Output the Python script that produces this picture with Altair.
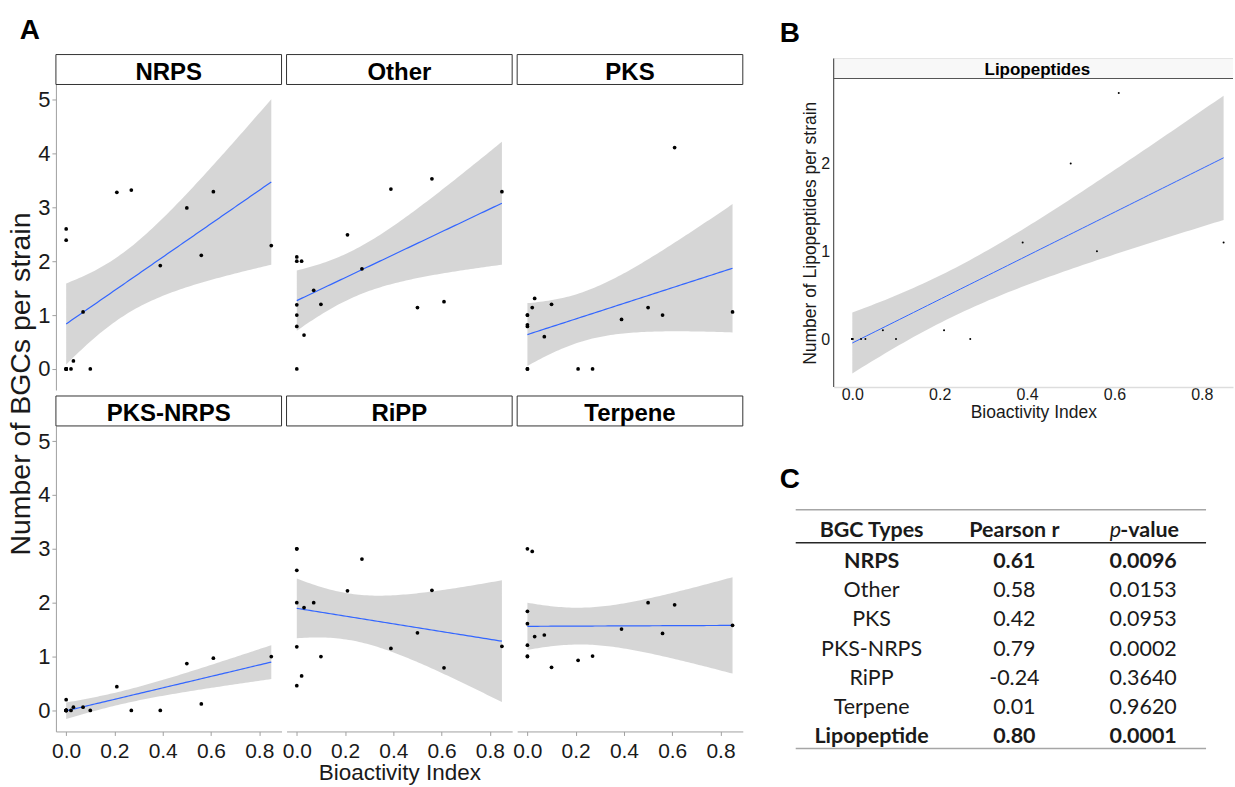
import altair as alt
import numpy as np
import pandas as pd

# ---------------------------------------------------------------- data
# Bioactivity index of each of the 17 strains (shared by every BGC class)
bioactivity = [0.0, 0.0, 0.0, 0.0, 0.0, 0.0, 0.02, 0.03, 0.07, 0.10,
               0.21, 0.27, 0.39, 0.50, 0.56, 0.61, 0.85]

# Number of BGCs per strain, one list per BGC class (same strain order)
nrps = [2.60, 2.39, 0.0, 0.0, 0.0, 0.0, 0.0, 0.15, 1.06, 0.0,
        3.28, 3.32, 1.92, 2.99, 2.11, 3.29, 2.29]
other = [2.08, 2.00, 1.19, 1.00, 0.79, 0.0, 2.00, 0.63, 1.46, 1.20,
         2.49, 1.86, 3.34, 1.14, 3.53, 1.25, 3.29]
pks = [1.00, 0.82, 0.79, 0.0, 1.00, 0.0, 1.14, 1.31, 0.60, 1.20,
       0.0, 0.0, 0.92, 1.14, 1.00, 4.11, 1.06]
pks_nrps = [0.20, 0.0, 0.0, 0.0, 0.0, 0.0, 0.0, 0.06, 0.06, 0.0,
            0.44, 0.0, 0.0, 0.87, 0.12, 0.97, 1.00]
ripp = [3.00, 2.60, 2.00, 1.18, 0.46, 3.00, 0.64, 1.91, 2.00, 1.00,
        2.22, 2.81, 1.15, 1.44, 2.23, 0.79, 1.19]
terpene = [3.00, 1.84, 1.61, 1.21, 1.01, 1.00, 2.95, 1.37, 1.40, 0.80,
           0.93, 1.01, 1.51, 2.00, 1.43, 1.96, 1.58]

# Number of lipopeptide clusters per strain
lipopeptides = [0.0, 0.0, 0.0, 0.0, 0.0, 0.0, 0.0, 0.0, 0.10, 0.0,
                0.10, 0.0, 1.10, 2.00, 1.00, 2.80, 1.10]

# Correlation summary table
table_types = ["NRPS", "Other", "PKS", "PKS-NRPS", "RiPP", "Terpene", "Lipopeptide"]
table_r = ["0.61", "0.58", "0.42", "0.79", "-0.24", "0.01", "0.80"]
table_p = ["0.0096", "0.0153", "0.0953", "0.0002", "0.3640", "0.9620", "0.0001"]
table_bold = ["NRPS", "Lipopeptide"]

# ---------------------------------------------------------------- style
FONT = "Liberation Sans"
TFONT = "Lato"
GREY = "#a0a0a0"
INK = "#1a1a1a"
FIT_BLUE = "#3366FF"
T_975_DF15 = 2.131  # two-sided 95% Student t quantile, n - 2 = 15

PW, PH = 226, 306
XDOM = [-0.0425, 0.8925]
YDOM = [-0.39, 5.28]


def fit_band(xs, ys, n=80):
    """Least-squares line with its 95% confidence band (as geom_smooth lm)."""
    x = np.asarray(xs, float)
    y = np.asarray(ys, float)
    xbar, ybar = x.mean(), y.mean()
    sxx = ((x - xbar) ** 2).sum()
    slope = ((x - xbar) * (y - ybar)).sum() / sxx
    icpt = ybar - slope * xbar
    resid = y - (icpt + slope * x)
    s = np.sqrt((resid ** 2).sum() / (len(x) - 2))
    grid = np.linspace(x.min(), x.max(), n)
    fit = icpt + slope * grid
    se = s * np.sqrt(1.0 / len(x) + (grid - xbar) ** 2 / sxx)
    return pd.DataFrame({"x": grid, "fit": fit,
                         "lo": fit - T_975_DF15 * se, "hi": fit + T_975_DF15 * se})


def bgc_panel(name, values, left, bottom):
    pts = pd.DataFrame({"x": bioactivity, "y": values})
    band = fit_band(bioactivity, values)
    xs = alt.Scale(domain=XDOM, nice=False, zero=False)
    ys = alt.Scale(domain=YDOM, nice=False, zero=False)

    if bottom:
        xaxis = alt.Axis(values=[0, 0.2, 0.4, 0.6, 0.8], format=".1f", grid=False,
                         labelFont=FONT, labelFontSize=21, labelColor=INK,
                         labelPadding=5, labelFlush=False, labelOverlap=False,
                         tickColor=GREY, tickSize=4, domainColor=GREY,
                         titleFont=FONT, titleFontSize=22.5, titleFontWeight="normal",
                         titleColor=INK, titlePadding=0)
    else:
        xaxis = None
    if left:
        yaxis = alt.Axis(values=[0, 1, 2, 3, 4, 5], grid=False,
                         labelFont=FONT, labelFontSize=22, labelColor=INK,
                         labelPadding=2, tickColor=GREY, tickSize=4, domainColor=GREY)
    else:
        yaxis = None

    xtitle = "Bioactivity Index" if name == "RiPP" else None

    def xenc():
        return alt.X("x:Q", scale=xs, axis=xaxis, title=xtitle)

    def yenc(field):
        return alt.Y(field, scale=ys, axis=yaxis, title=None)

    ribbon = alt.Chart(band).mark_area(color="#999999", opacity=0.4).encode(
        x=xenc(), y=yenc("lo:Q"), y2="hi:Q"
    )
    line = alt.Chart(band).mark_line(color=FIT_BLUE, strokeWidth=1.2).encode(
        x=xenc(), y=yenc("fit:Q")
    )
    dots = alt.Chart(pts).mark_circle(size=14, color="black", opacity=1).encode(
        x=xenc(), y=yenc("y:Q")
    )
    strip = pd.DataFrame({"label": [name]})
    box = alt.Chart(strip).mark_rect(fill="white", stroke="#333333", strokeWidth=1).encode(
        x=alt.value(0), x2=alt.value(PW), y=alt.value(-30), y2=alt.value(0)
    )
    label = alt.Chart(strip).mark_text(
        font=FONT, fontSize=24, fontWeight="bold", color="black",
        align="center", baseline="alphabetic"
    ).encode(text="label:N", x=alt.value(PW / 2), y=alt.value(-5))
    return alt.layer(ribbon, line, dots, box, label).properties(width=PW, height=PH)


def letter(ch, x, y, w, h):
    return alt.Chart(pd.DataFrame({"label": [ch]})).mark_text(
        font=FONT, fontSize=28, fontWeight="bold", color="black",
        align="center", baseline="alphabetic"
    ).encode(text="label:N", x=alt.value(x), y=alt.value(y)).properties(width=w, height=h)


# ---------------------------------------------------------------- panel A
panels = alt.concat(
    bgc_panel("NRPS", nrps, True, False),
    bgc_panel("Other", other, False, False),
    bgc_panel("PKS", pks, False, False),
    bgc_panel("PKS-NRPS", pks_nrps, True, True),
    bgc_panel("RiPP", ripp, False, True),
    bgc_panel("Terpene", terpene, False, True),
    columns=3,
    align="each",
    spacing={"row": 4, "column": -1},
)
block_a = alt.vconcat(letter("A", -26, 26, PW, 30), panels, spacing=8)

# shared y title of the six facets
y_title_a = alt.Chart(pd.DataFrame({"label": ["Number of BGCs per strain"]})).mark_text(
    font=FONT, fontSize=28.5, color=INK, angle=270, align="center", baseline="middle"
).encode(text="label:N", x=alt.value(0), y=alt.value(372)).properties(width=1, height=1)

left_part = alt.hconcat(y_title_a, block_a, spacing=-18)

# ---------------------------------------------------------------- panel B
BW, BH = 400, 309
BXDOM = [-0.0427, 0.8715]
BYDOM = [-0.545, 2.966]

lipo_pts = pd.DataFrame({"x": bioactivity, "y": lipopeptides})
lipo_band = fit_band(bioactivity, lipopeptides)
bxs = alt.Scale(domain=BXDOM, nice=False, zero=False)
bys = alt.Scale(domain=BYDOM, nice=False, zero=False)
b_xaxis = alt.Axis(values=[0, 0.2, 0.4, 0.6, 0.8], format=".1f", grid=False,
                   labelFont=FONT, labelFontSize=16, labelColor=INK,
                   labelPadding=0, labelFlush=False, ticks=False,
                   domainColor="#dddddd", domainWidth=1.5,
                   titleFont=FONT, titleFontSize=17.5, titleFontWeight="normal",
                   titleColor=INK, titlePadding=1)
b_yaxis = alt.Axis(values=[0, 1, 2], grid=False, domain=False, ticks=False,
                   labelFont=FONT, labelFontSize=16, labelColor=INK,
                   labelPadding=4,
                   titleFont=FONT, titleFontSize=17.5, titleFontWeight="normal",
                   titleColor=INK, titlePadding=1)


def bx():
    return alt.X("x:Q", scale=bxs, axis=b_xaxis, title="Bioactivity Index")


def by(field):
    return alt.Y(field, scale=bys, axis=b_yaxis, title="Number of Lipopeptides per strain")


b_ribbon = alt.Chart(lipo_band).mark_area(color="#999999", opacity=0.4).encode(
    x=bx(), y=by("lo:Q"), y2="hi:Q"
)
b_line = alt.Chart(lipo_band).mark_line(color=FIT_BLUE, strokeWidth=1).encode(
    x=bx(), y=by("fit:Q")
)
b_dots = alt.Chart(lipo_pts).mark_circle(size=4, color="black", opacity=1).encode(
    x=bx(), y=by("y:Q")
)
b_strip_df = pd.DataFrame({"label": ["Lipopeptides"]})
b_strip = alt.Chart(b_strip_df).mark_rect(fill="#f8f8f8").encode(
    x=alt.value(0), x2=alt.value(BW), y=alt.value(-20), y2=alt.value(0)
)
b_strip_top = alt.Chart(b_strip_df).mark_rule(color="#e4e4e4", strokeWidth=1).encode(
    x=alt.value(0), x2=alt.value(BW), y=alt.value(-20)
)
b_strip_bottom = alt.Chart(b_strip_df).mark_rule(color="#555555", strokeWidth=1.2).encode(
    x=alt.value(0), x2=alt.value(BW), y=alt.value(0)
)
b_left = alt.Chart(b_strip_df).mark_rule(color="#555555", strokeWidth=1.2).encode(
    x=alt.value(0), y=alt.value(-20), y2=alt.value(BH)
)
b_label = alt.Chart(b_strip_df).mark_text(
    font=FONT, fontSize=17, fontWeight="bold", color="black",
    align="center", baseline="alphabetic"
).encode(text="label:N", x=alt.value(BW / 2 + 4), y=alt.value(-3.5))

panel_b = alt.layer(b_ribbon, b_line, b_dots, b_strip, b_strip_top, b_strip_bottom,
                    b_left, b_label).properties(width=BW, height=BH)

# ---------------------------------------------------------------- panel C
TW, TH = 373, 239
cells = []
for i, (t, r, p) in enumerate(zip(table_types, table_r, table_p)):
    w = "bold" if t in table_bold else "normal"
    for ci, v in enumerate([t, r, p]):
        cells.append({"ri": i + 1, "ci": ci, "text": v, "weight": w})
cells = pd.DataFrame(cells)
header = pd.DataFrame({"ri": [0, 0, 0, 0], "ci": [0, 1, 2, 2],
                       "text": ["BGC Types", "Pearson r", "p", "-value"],
                       "part": ["plain", "plain", "italic", "tail"]})

cx = alt.X("ci:Q", scale=alt.Scale(domain=[0, 1, 2], range=[38, 181, 310]), axis=None)
cy = alt.Y("ri:Q", scale=alt.Scale(domain=[0, 1, 7], range=[21, 52, 228]), axis=None)
TSIZE = 21.5

t_normal = alt.Chart(cells).transform_filter(alt.datum.weight == "normal").mark_text(
    font=TFONT, fontSize=TSIZE, color=INK, align="center", baseline="middle"
).encode(x=cx, y=cy, text="text:N")
t_bold = alt.Chart(cells).transform_filter(alt.datum.weight == "bold").mark_text(
    font=TFONT, fontSize=TSIZE, fontWeight="bold", color=INK, align="center", baseline="middle"
).encode(x=cx, y=cy, text="text:N")
h_plain = alt.Chart(header).transform_filter(alt.datum.part == "plain").mark_text(
    font=TFONT, fontSize=TSIZE, fontWeight="bold", color=INK, align="center", baseline="middle"
).encode(x=cx, y=cy, text="text:N")
h_tail = alt.Chart(header).transform_filter(alt.datum.part == "tail").mark_text(
    font=TFONT, fontSize=TSIZE, fontWeight="bold", color=INK, align="left", baseline="middle", dx=-23
).encode(x=cx, y=cy, text="text:N")
h_italic = alt.Chart(header).transform_filter(alt.datum.part == "italic").mark_text(
    font=TFONT, fontSize=TSIZE, fontStyle="italic", color=INK, align="right", baseline="middle", dx=-22
).encode(x=cx, y=cy, text="text:N")

rule_df = pd.DataFrame({"k": [0]})
r_top = alt.Chart(rule_df).mark_rule(color="#a6a6a6", strokeWidth=1.5).encode(
    x=alt.value(-38), x2=alt.value(TW), y=alt.value(0))
r_head = alt.Chart(rule_df).mark_rule(color="#262626", strokeWidth=1.6).encode(
    x=alt.value(-38), x2=alt.value(TW), y=alt.value(33))
r_bottom = alt.Chart(rule_df).mark_rule(color="#a6a6a6", strokeWidth=1.5).encode(
    x=alt.value(-38), x2=alt.value(TW), y=alt.value(TH))
c_letter = alt.Chart(pd.DataFrame({"label": ["C"]})).mark_text(
    font=FONT, fontSize=28, fontWeight="bold", color="black",
    align="center", baseline="alphabetic"
).encode(text="label:N", x=alt.value(-44), y=alt.value(-22))

panel_c = alt.layer(r_top, r_head, r_bottom, t_normal, t_bold, h_plain, h_tail,
                    h_italic, c_letter).properties(width=TW, height=TH)

block_r = alt.vconcat(letter("B", -44, 29, BW, 30),
                      alt.vconcat(panel_b, panel_c, spacing=43), spacing=8)

chart = alt.hconcat(left_part, block_r, spacing=35).properties(
    padding={"left": 6, "top": 11, "right": 0, "bottom": 0},
    background="white",
).configure_view(stroke="transparent")

chart.save("out.html", embed_options={"renderer": "svg", "actions": False})
